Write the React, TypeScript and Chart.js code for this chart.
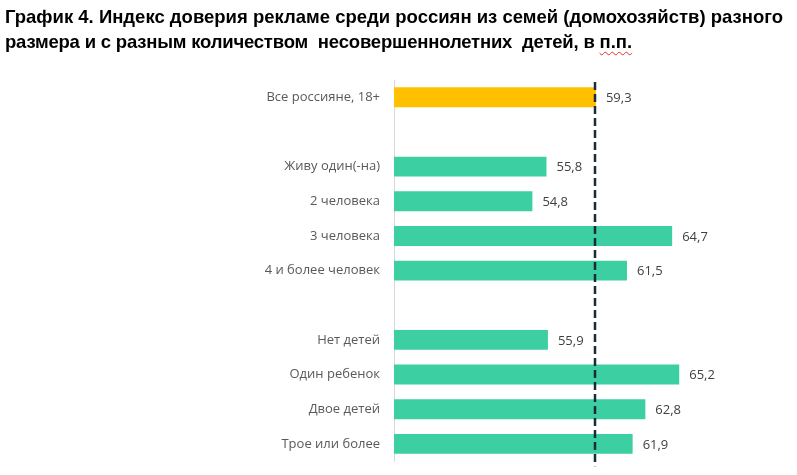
import { useEffect, useRef } from "react";
import { Chart, registerables } from "chart.js";

Chart.register(...registerables);

// Rows of the chart; empty labels separate the groups
const categories = [
  "Все россияне, 18+",
  "",
  "Живу один(-на)",
  "2 человека",
  "3 человека",
  "4 и более человек",
  "",
  "Нет детей",
  "Один ребенок",
  "Двое детей",
  "Трое или более",
];
const trustIndex: (number | null)[] = [59.3, null, 55.8, 54.8, 64.7, 61.5, null, 55.9, 65.2, 62.8, 61.9];
const allRussiansValue = 59.3;
const axisMin = 45;
const axisMax = 70;

const COLOR_TOTAL = "#FFC000";
const COLOR_GROUP = "#3BCFA1";

const fmt = (v: number) => v.toFixed(1).replace(".", ",");

const valueLabels = {
  id: "valueLabels",
  afterDatasetsDraw(chart: any) {
    const ctx = chart.ctx;
    const meta = chart.getDatasetMeta(0);
    ctx.save();
    ctx.font = "13px 'Open Sans'";
    ctx.fillStyle = "#404040";
    ctx.textAlign = "left";
    ctx.textBaseline = "middle";
    meta.data.forEach((bar: any, i: number) => {
      const v = trustIndex[i];
      if (v == null) return;
      ctx.fillText(fmt(v), bar.x + 10, bar.y + 1);
    });
    ctx.restore();
  },
};

const referenceLine = {
  id: "referenceLine",
  afterDatasetsDraw(chart: any) {
    const { ctx, chartArea, scales } = chart;
    const x = Math.round(scales.x.getPixelForValue(allRussiansValue)) - 1;
    ctx.save();
    ctx.strokeStyle = "#1A2B3C";
    ctx.lineWidth = 2.5;
    ctx.setLineDash([8, 4]);
    ctx.beginPath();
    ctx.moveTo(x, chartArea.top + 2);
    ctx.lineTo(x, chartArea.bottom + 5);
    ctx.stroke();
    ctx.restore();
  },
};

export default function App() {
  const canvasRef = useRef<HTMLCanvasElement | null>(null);

  useEffect(() => {
    document.body.style.margin = "0";
    const canvas = canvasRef.current;
    if (!canvas) return;
    const chart = new Chart(canvas, {
      type: "bar",
      data: {
        labels: categories,
        datasets: [
          {
            data: trustIndex,
            backgroundColor: trustIndex.map((_, i) => (i === 0 ? COLOR_TOTAL : COLOR_GROUP)),
            borderWidth: 0,
            barPercentage: 0.575,
            categoryPercentage: 1,
          },
        ],
      },
      options: {
        indexAxis: "y",
        animation: false,
        responsive: false,
        maintainAspectRatio: false,
        events: [],
        layout: { padding: { top: 80, bottom: 1, left: 0, right: 50 } },
        plugins: {
          legend: { display: false },
          tooltip: { enabled: false },
          title: { display: false },
        },
        scales: {
          x: {
            display: false,
            min: axisMin,
            max: axisMax,
          },
          y: {
            grid: { display: false },
            border: { display: true, color: "#D9D9D9", width: 1 },
            ticks: {
              color: "#595959",
              font: { family: "'Open Sans'", size: 13 },
              padding: 6,
              autoSkip: false,
            },
            afterFit(scale: any) {
              scale.width = 394;
            },
          },
        },
      },
      plugins: [valueLabels, referenceLine],
    });
    return () => chart.destroy();
  }, []);

  return (
    <div style={{ position: "absolute", left: 0, top: 0, width: 797, height: 475, background: "#fff" }}>
      <canvas ref={canvasRef} width={797} height={475} style={{ position: "absolute", left: 0, top: 0 }} />
      <div
        style={{
          position: "absolute",
          left: 5,
          top: 4,
          width: 795,
          whiteSpace: "nowrap",
          fontFamily: "'Liberation Sans', Arial, sans-serif",
          fontWeight: "bold",
          fontSize: 18.5,
          lineHeight: "25px",
          color: "#000",
        }}
      >
        График 4. Индекс доверия рекламе среди россиян из семей (домохозяйств) разного
        <br />
        <span style={{ letterSpacing: -0.2 }}>
          размера и с разным количеством&nbsp; несовершеннолетних&nbsp; детей, в{" "}
        </span>
        <span style={{ textDecoration: "underline wavy #E03030", textUnderlineOffset: 3, textDecorationThickness: 1 }}>
          п.п.
        </span>
      </div>
    </div>
  );
}
